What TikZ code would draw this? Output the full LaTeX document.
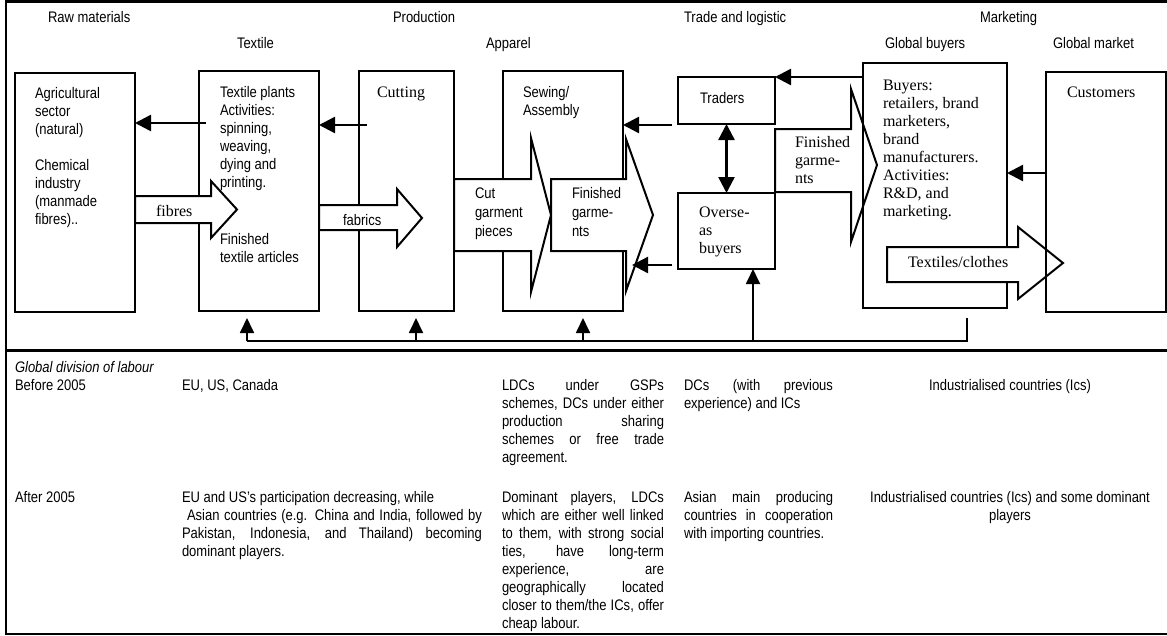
\documentclass[tikz,border=0pt]{standalone}
\usepackage{fontspec}
\setmainfont{Liberation Sans}[FakeStretch=0.85]
\newfontfamily\serifA{Liberation Serif}
\usetikzlibrary{arrows.meta}
\newcommand\sansT{\fontsize{15.3}{18}\selectfont}
\newcommand\sansU{\fontsize{15.3}{19}\selectfont}
\newcommand\serT{\serifA\fontsize{16}{18}\selectfont}
\newcommand\jl[2]{\makebox[#1pt][s]{#2}}
\begin{document}
\begin{tikzpicture}[x=1pt,y=-1pt,
  box/.style={draw, line width=2pt, inner sep=0pt, outer sep=0pt, anchor=north west},
  barrow/.style={draw, line width=2pt, fill=white, line join=miter},
  arr/.style={line width=2.4pt, -{Triangle[length=16pt,width=16pt]}},
  darr/.style={line width=2.4pt, {Triangle[length=16pt,width=16pt]}-{Triangle[length=16pt,width=16pt]}},
  fb/.style={line width=1.8pt},
  fbarr/.style={line width=1.8pt, -{Triangle[length=15pt,width=14pt]}},
  lbl/.style={inner sep=0pt, outer sep=0pt, anchor=base west, font=\sansT},
  slbl/.style={lbl, font=\serT},
  blk/.style={inner sep=0pt, outer sep=0pt, anchor=north west, align=left, font=\sansT},
  sblk/.style={blk, font=\serT}
]
\useasboundingbox (0,0) rectangle (1167,635);
\fill[white] (0,0) rectangle (1167,635);
% frame
\draw[line width=3pt] (6,1.5) -- (1167,1.5);
\draw[line width=2.2pt] (6,0) -- (6,635);
\draw[line width=3pt] (6,350) -- (1167,350);
\draw[line width=2pt] (6,633.5) -- (1167,633.5);

% boxes
\node[box, minimum width=120pt, minimum height=239pt] (agri) at (15,73) {};
\node[box, minimum width=120pt, minimum height=240pt] (textile) at (199,71) {};
\node[box, minimum width=95pt, minimum height=240pt] (cutting) at (359,71) {};
\node[box, minimum width=120pt, minimum height=240pt] (sewing) at (503,71) {};
\node[box, minimum width=97pt, minimum height=47pt] (traders) at (678,77) {};
\node[box, minimum width=97pt, minimum height=76pt] (overseas) at (678,193) {};

% block arrows
\draw[barrow] (135,196) -- (211,196) -- (211,181) -- (237,209.5) -- (211,238) -- (211,223) -- (135,223) -- cycle;
\draw[barrow] (319,205) -- (397,205) -- (397,189) -- (422,218) -- (397,247) -- (397,230) -- (319,230) -- cycle;
\draw[barrow] (454,179) -- (531,179) -- (531,138) -- (551,215) -- (531,292) -- (531,251) -- (454,251) -- cycle;
\draw[barrow] (551,179) -- (626,179) -- (626,139) -- (653,215) -- (626,291) -- (626,251) -- (551,251) -- cycle;
\draw[barrow] (775,129) -- (851,129) -- (851,89) -- (877,165) -- (851,242) -- (851,192) -- (775,192) -- cycle;

\node[box, minimum width=144pt, minimum height=245pt] (gbuyers) at (863,63) {};
\draw[barrow] (887,247) -- (1018,247) -- (1018,227) -- (1063,263) -- (1018,299) -- (1018,282) -- (887,282) -- cycle;
\node[box, minimum width=120pt, minimum height=240pt] (customers) at (1046,72) {};

% thin arrows
\coordinate (a1) at (206,123);
\coordinate (a2) at (367,125);
\coordinate (a3) at (672,125);
\coordinate (a4) at (672,265);
\coordinate (a6) at (1046,173);
\draw[arr] (a1) -- (agri.east |- a1);
\draw[arr] (a2) -- (textile.east |- a2);
\draw[arr] (a3) -- (sewing.east |- a3);
\draw[arr, shorten >=9pt] (a4) -- (sewing.east |- a4);
\draw[arr] (gbuyers.west |- traders.north) -- (traders.north east);
\draw[arr] (a6) -- (gbuyers.east |- a6);
\draw[darr] (traders.south) -- (overseas.north);

% feedback
\coordinate (fbR) at (967,318);
\coordinate (fb1) at (247,341);
\coordinate (fb2) at (416,341);
\coordinate (fb3) at (583,341);
\coordinate (fb4) at (753,341);
\draw[fb] (fbR) |- (fb1);
\draw[fbarr, shorten >=7pt] (fb1) -- (fb1 |- textile.south);
\draw[fbarr, shorten >=7pt] (fb2) -- (fb2 |- cutting.south);
\draw[fbarr, shorten >=7pt] (fb3) -- (fb3 |- sewing.south);
\draw[fbarr] (fb4) -- (fb4 |- overseas.south);

% headers
\node[lbl] (hRaw) at (48,22) {Raw materials};
\node[lbl] (hProd) at (393,22) {Production};
\node[lbl] (hTrade) at (684,22) {Trade and logistic};
\node[lbl] (hMkt) at (980,22) {Marketing};
\node[lbl] (hTex) at (237,48) {Textile};
\node[lbl] (hApp) at (486,48) {Apparel};
\node[lbl] (hGB) at (885,48) {Global buyers};
\node[lbl] (hGM) at (1053,48) {Global market};

% box texts
\node[blk] (tAgri) at (35,85.5) {\strut Agricultural\\sector\\(natural)\\[18pt]Chemical\\industry\\(manmade\\fibres)..};
\node[blk] (tTex1) at (220,84.5) {\strut Textile plants\\Activities:\\spinning,\\weaving,\\dying and\\printing.};
\node[blk] (tTex2) at (220,231.5) {\strut Finished\\textile articles};
\node[slbl] (tCut) at (377,97.5) {Cutting};
\node[blk] (tSew) at (523,84.5) {\strut Sewing/\\Assembly};
\node[lbl] (tTrad) at (700,103) {Traders};
\node[sblk] (tOver) at (699,205) {\strut Overse-\\as\\buyers};
\node[sblk] (tTfg) at (795,135) {\strut Finished\\garme-\\nts};
\node[sblk] (tBuy) at (883,78) {\strut Buyers:\\retailers, brand\\marketers,\\brand\\manufacturers.\\Activities:\\R\&D, and\\marketing.};
\node[slbl] (tCust) at (1067,97.5) {Customers};
\node[slbl] (tTexCl) at (908,267.5) {Textiles/clothes};
\node[slbl] (tFib) at (156,216.5) {fibres};
\node[lbl] (tFab) at (343,225) {fabrics};
\node[blk, font=\sansU] (tCutg) at (475,185.5) {\strut Cut\\garment\\pieces};
\node[blk, font=\sansU] (tAfg) at (572,185.5) {\strut Finished\\garme-\\nts};

% table
\node[lbl, font=\sansT\itshape] (tGdl) at (15,372) {Global division of labour};
\node[lbl] (tB05) at (15,390) {Before 2005};
\node[lbl] (tEU) at (182,390) {EU, US, Canada};
\node[blk] (c3a) at (502,377.5) {\strut\jl{162}{LDCs under GSPs}\\\jl{162}{schemes, DCs under either}\\\jl{162}{production sharing}\\\jl{162}{schemes or free trade}\\agreement.};
\node[blk] (c4a) at (684,377.5) {\strut\jl{149}{DCs (with previous}\\experience) and ICs};
\node[inner sep=0pt, anchor=base, font=\sansT] (c5a) at (1010,390) {Industrialised countries (Ics)};
\node[lbl] (tA05) at (15,502) {After 2005};
\node[blk] (c2b) at (182,489.5) {\strut EU and US’s participation decreasing, while\\\hspace*{5pt}\jl{295}{Asian countries (e.g. China and India, followed by}\\\jl{300}{Pakistan, Indonesia, and Thailand) becoming}\\dominant players.};
\node[blk] (c3b) at (502,489.5) {\strut\jl{162}{Dominant players, LDCs}\\\jl{162}{which are either well linked}\\\jl{162}{to them, with strong social}\\\jl{162}{ties, have long-term}\\\jl{162}{experience, are}\\\jl{162}{geographically located}\\\jl{162}{closer to them/the ICs, offer}\\cheap labour.};
\node[blk] (c4b) at (684,489.5) {\strut\jl{149}{Asian main producing}\\\jl{149}{countries in cooperation}\\with importing countries.};
\node[inner sep=0pt, anchor=north, align=center, font=\sansT] (c5b) at (1010,489.5) {\strut Industrialised countries (Ics) and some dominant\\players};
\end{tikzpicture}
\end{document}
